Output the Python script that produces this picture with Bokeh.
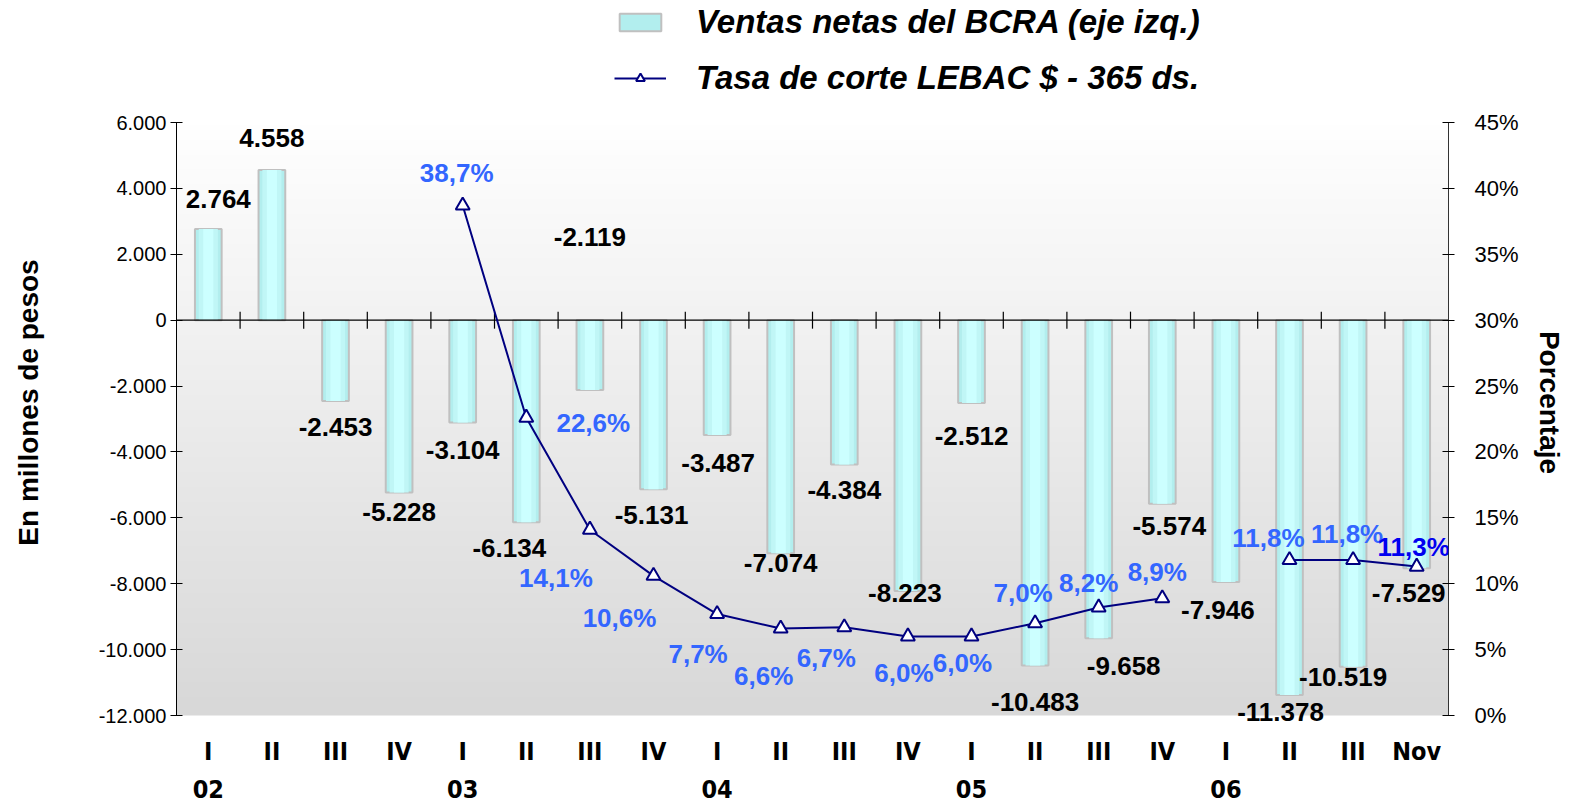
import numpy as np
from bokeh.plotting import figure
from bokeh.models import (ColumnDataSource, Range1d, LinearAxis, FixedTicker,
                          LabelSet, Legend, LegendItem)
from bokeh.core.properties import value
from bokeh.embed import file_html
from bokeh.resources import INLINE

nan = float("nan")

# ---------------- data ----------------
quarters = ["I", "II", "III", "IV", "I", "II", "III", "IV", "I", "II", "III", "IV",
            "I", "II", "III", "IV", "I", "II", "III", "Nov"]
years = ["02", "03", "04", "05", "06"]
ventas = [2764, 4558, -2453, -5228, -3104, -6134, -2119, -5131, -3487, -7074,
          -4384, -8223, -2512, -10483, -9658, -5574, -7946, -11378, -10519, -7529]
tasa = [nan, nan, nan, nan, 38.7, 22.6, 14.1, 10.6, 7.7, 6.6,
        6.7, 6.0, 6.0, 7.0, 8.2, 8.9, nan, 11.8, 11.8, 11.3]
left_ticks = [-12000, -10000, -8000, -6000, -4000, -2000, 0, 2000, 4000, 6000]
right_ticks = [0, 5, 10, 15, 20, 25, 30, 35, 40, 45]

# ---------------- label placement (pixels; style only, + = down) ----------------
bar_lbl_dx = [10, 0, 0, 0, 0, -17, 0, -2, 1, 0, 0, -3, 0, 0, 25, 7, -8, -9, -10, -8]
bar_lbl_dy = [-30, -32, 26, 20, 28, 26, -153, 26, 28, 10, 25, 2, 33, 36, 28, 22, 28, 17, 10, 25]
pct_lbl_dx = [0, 0, 0, 0, -6, 67, -34, -34, -19, -17, -18, -4, -9, -12, -10, -5, 0, -21, -6, -3]
pct_lbl_dy = [0, 0, 0, 0, -33, 5, 48, 42, 40, 47, 31, 37, 27, -30, -24, -26, 0, -22, -26, -20]

# ---------------- layout (pixels) ----------------
W, H = 1572, 804
PL, PR, PT, PB = 176, 1448, 122, 715      # plot area edges on the page

n = len(quarters)
xs = list(range(n))
x0, x1 = -0.5, n - 0.5
y0, y1 = left_ticks[0], left_ticks[-1]
r0, r1 = right_ticks[0], right_ticks[-1]
upp = (y1 - y0) / (PB - PT)               # left units per pixel
rpp = (r1 - r0) / (PB - PT)               # right units per pixel

p = figure(width=W, height=H,
           x_range=Range1d(x0, x1),
           y_range=Range1d(y0 - (H - PB) * upp, y1 + PT * upp),
           output_backend="svg", toolbar_location=None, x_axis_location=None,
           min_border_left=PL, min_border_right=W - PR, min_border_top=0, min_border_bottom=0)
p.extra_y_ranges = {"pct": Range1d(r0 - (H - PB) * rpp, r1 + PT * rpp)}
p.grid.visible = False
p.outline_line_color = None
p.background_fill_color = "white"
p.border_fill_color = "white"

# background gradient of the plot area
ny = 200
img = np.zeros((ny, 2), dtype=np.uint32)
view = img.view(dtype=np.uint8).reshape((ny, 2, 4))
g = np.linspace(0xD8, 0xFF, ny).astype(np.uint8)
for c in range(3):
    view[:, :, c] = g[:, None]
view[:, :, 3] = 255
p.image_rgba(image=[img], x=x0, y=y0, dw=x1 - x0, dh=y1 - y0)

# bars with a horizontal shading
src = ColumnDataSource(dict(x=xs, v=ventas))
bar_r = p.vbar(x="x", top="v", bottom=0, width=0.42, source=src,
               fill_color="#b2eeee", line_color="#c0c0c0", line_width=2)
p.vbar(x="x", top="v", bottom=0, width=0.30, source=src, fill_color="#c0f6f6", line_color=None)
p.vbar(x="x", top="v", bottom=0, width=0.16, source=src, fill_color="#ccffff", line_color=None)

# zero line with category ticks
zsrc = ColumnDataSource(dict(x=[x0, x1], y=[0, 0]))
p.line(x="x", y="y", source=zsrc, line_color="black", line_width=1.3)
tick_x = [i + 0.5 for i in xs[:-1]]
p.scatter(x=tick_x, y=[0] * len(tick_x), marker="dash", angle=np.pi / 2, size=17,
          line_color="black", line_width=1.2)

# rate line
lsrc = ColumnDataSource(dict(x=xs, r=tasa))
line_r = p.line(x="x", y="r", source=lsrc, y_range_name="pct", line_color="#000080", line_width=2)
pts_r = p.scatter(x="x", y="r", source=lsrc, y_range_name="pct", marker="triangle", size=14,
                  fill_color="white", line_color="#000080", line_width=2)

FONT = value("Liberation Sans")
NARROW = value("Liberation Sans Narrow, DejaVu Sans Condensed, Liberation Sans")

# bar value labels
blab = ColumnDataSource(dict(
    x=xs, y=ventas,
    t=[f"{v:,}".replace(",", ".") for v in ventas],
    dx=bar_lbl_dx, dy=[-d for d in bar_lbl_dy]))
p.add_layout(LabelSet(x="x", y="y", text="t", source=blab, x_offset="dx", y_offset="dy",
                      text_align="center", text_baseline="middle",
                      text_font=FONT, text_font_style="bold",
                      text_font_size="26px", text_color="black"))

# rate labels
valid = [i for i in xs if not np.isnan(tasa[i])]
last = valid[-1]
plab = ColumnDataSource(dict(
    x=valid, y=[tasa[i] for i in valid],
    t=[f"{tasa[i]:.1f}".replace(".", ",") + "%" for i in valid],
    dx=[pct_lbl_dx[i] for i in valid], dy=[-pct_lbl_dy[i] for i in valid],
    c=["#0000F0" if i == last else "#3366FF" for i in valid]))
p.add_layout(LabelSet(x="x", y="y", text="t", source=plab, x_offset="dx", y_offset="dy",
                      y_range_name="pct", text_align="center", text_baseline="middle",
                      text_font=FONT, text_font_style="bold",
                      text_font_size="26px", text_color="c"))

# category and year labels
csrc = ColumnDataSource(dict(x=xs, y=[y0] * n, t=quarters))
p.add_layout(LabelSet(x="x", y="y", text="t", source=csrc, y_offset=-36,
                      text_align="center", text_baseline="middle",
                      text_font=NARROW, text_font_style="bold",
                      text_font_size="25px", text_color="black"))
ystart = [i for i, q in enumerate(quarters) if q == "I"]
ysrc = ColumnDataSource(dict(x=ystart, y=[y0] * len(ystart), t=years))
p.add_layout(LabelSet(x="x", y="y", text="t", source=ysrc, y_offset=-73,
                      text_align="center", text_baseline="middle",
                      text_font=NARROW, text_font_style="bold",
                      text_font_size="25px", text_color="black"))

# left axis
ya = p.yaxis[0]
ya.bounds = (y0, y1)
ya.ticker = FixedTicker(ticks=left_ticks)
ya.major_label_overrides = {t: f"{t:,}".replace(",", ".") for t in left_ticks}
ya.axis_label = "En millones de pesos"
ya.axis_label_text_font = "Liberation Sans"
ya.axis_label_text_font_style = "bold"
ya.axis_label_text_font_size = "28px"
ya.axis_label_text_color = "black"
ya.axis_label_standoff = 52
ya.major_label_text_font = "Liberation Sans"
ya.major_label_text_font_size = "20px"
ya.major_label_text_color = "black"
ya.major_label_standoff = 4
ya.major_tick_in = 6
ya.major_tick_out = 6
ya.minor_tick_line_color = None
ya.axis_line_color = "black"
ya.major_tick_line_color = "black"

# right axis
ra = LinearAxis(y_range_name="pct", ticker=FixedTicker(ticks=right_ticks), bounds=(r0, r1))
ra.major_label_overrides = {t: f"{t}%" for t in right_ticks}
ra.axis_label = "Porcentaje"
ra.axis_label_text_font = "Liberation Sans"
ra.axis_label_text_font_style = "bold"
ra.axis_label_text_font_size = "28px"
ra.axis_label_text_color = "black"
ra.axis_label_standoff = 12
ra.major_label_text_font = "Liberation Sans"
ra.major_label_text_font_size = "22px"
ra.major_label_text_color = "black"
ra.major_label_standoff = 20
ra.major_tick_in = 6
ra.major_tick_out = 6
ra.minor_tick_line_color = None
ra.axis_line_color = "#333333"
ra.major_tick_line_color = "black"
p.add_layout(ra, "right")

# legend
legend = Legend(items=[
    LegendItem(label="Ventas netas del BCRA (eje izq.)", renderers=[bar_r]),
    LegendItem(label="Tasa de corte LEBAC $ - 365 ds.", renderers=[line_r, pts_r]),
], location=(438, H - 97), orientation="vertical")
legend.label_text_font = "Liberation Sans"
legend.label_text_font_style = "bold italic"
legend.label_text_font_size = "33px"
legend.label_text_color = "black"
legend.glyph_width = 52
legend.glyph_height = 22
legend.label_standoff = 30
legend.spacing = 18
legend.padding = 0
legend.margin = 0
legend.border_line_color = None
legend.background_fill_color = None
p.add_layout(legend)

open("out.html", "w").write(file_html(p, INLINE))
